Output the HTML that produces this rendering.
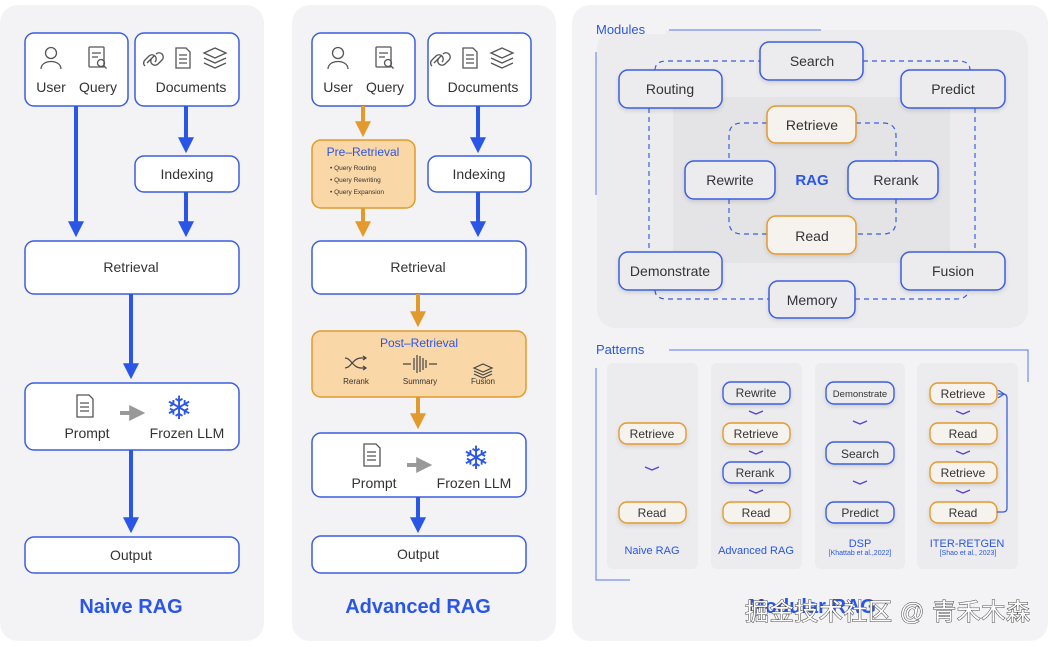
<!DOCTYPE html>
<html><head><meta charset="utf-8"><style>
html,body{margin:0;padding:0;background:#fff;}
svg text{font-family:"Liberation Sans","Noto Sans CJK SC",sans-serif;}
</style></head><body>
<svg width="1050" height="645" viewBox="0 0 1050 645" xmlns="http://www.w3.org/2000/svg">
<defs>
<marker id="ab" markerWidth="4" markerHeight="4" refX="2.2" refY="2" orient="auto" markerUnits="strokeWidth"><path d="M0,0 L4,2 L0,4 Z" fill="#2a56e8"/></marker>
<marker id="ao" markerWidth="4" markerHeight="4" refX="2.2" refY="2" orient="auto" markerUnits="strokeWidth"><path d="M0,0 L4,2 L0,4 Z" fill="#e39a2d"/></marker>
<marker id="ag" markerWidth="4" markerHeight="4" refX="2.2" refY="2" orient="auto" markerUnits="strokeWidth"><path d="M0,0 L4,2 L0,4 Z" fill="#999"/></marker>
<marker id="al" markerWidth="8" markerHeight="8" refX="7" refY="4" orient="auto" markerUnits="userSpaceOnUse"><path d="M7,0 L1,4 L7,8" fill="none" stroke="#3a5ee0" stroke-width="1.3"/></marker>
<filter id="sh" x="-20%" y="-20%" width="140%" height="160%"><feDropShadow dx="0" dy="2" stdDeviation="2" flood-color="#000" flood-opacity="0.12"/></filter>
</defs>

<rect x="0" y="5" width="264" height="636" rx="18" fill="#f3f3f5"/>
<rect x="292" y="5" width="264" height="636" rx="18" fill="#f3f3f5"/>
<rect x="572" y="5" width="476" height="636" rx="18" fill="#f3f3f5"/>

<!-- NAIVE -->
<g fill="#fff" stroke="#3a5ee0" stroke-width="1.5">
<rect x="25" y="33" width="103" height="73" rx="9"/>
<rect x="135" y="33" width="104" height="73" rx="9"/>
<rect x="135" y="156" width="104" height="36" rx="9"/>
<rect x="25" y="241" width="214" height="53" rx="9"/>
<rect x="25" y="383" width="214" height="67" rx="9"/>
<rect x="25" y="537" width="214" height="36" rx="9"/>
</g>
<g fill="#333" font-size="14" text-anchor="middle">
<text x="51" y="92">User</text><text x="98" y="92">Query</text>
<text x="191" y="92">Documents</text>
<text x="187" y="179">Indexing</text>
<text x="131" y="272">Retrieval</text>
<text x="87" y="438">Prompt</text><text x="187" y="438">Frozen LLM</text>
<text x="131" y="560">Output</text>
</g>
<g stroke="#2a56e8" stroke-width="4" marker-end="url(#ab)" fill="none">
<line x1="76" y1="106" x2="76" y2="230"/>
<line x1="186" y1="106" x2="186" y2="146"/>
<line x1="186" y1="192" x2="186" y2="230"/>
<line x1="131" y1="294" x2="131" y2="372"/>
<line x1="131" y1="450" x2="131" y2="526"/>
</g>
<text x="131" y="613" font-size="20" font-weight="bold" fill="#2a56e8" text-anchor="middle">Naive RAG</text>

<!-- ADVANCED -->
<g fill="#fff" stroke="#3a5ee0" stroke-width="1.5">
<rect x="312" y="33" width="103" height="73" rx="9"/>
<rect x="428" y="33" width="103" height="73" rx="9"/>
<rect x="428" y="156" width="103" height="36" rx="9"/>
<rect x="312" y="241" width="214" height="53" rx="9"/>
<rect x="312" y="433" width="214" height="64" rx="9"/>
<rect x="312" y="536" width="214" height="37" rx="9"/>
</g>
<rect x="312" y="140" width="103" height="68" rx="9" fill="#f9d7a6" stroke="#e39a2d" stroke-width="1.5"/>
<rect x="312" y="331" width="214" height="66" rx="9" fill="#f9d7a6" stroke="#e39a2d" stroke-width="1.5"/>
<g fill="#333" font-size="14" text-anchor="middle">
<text x="338" y="92">User</text><text x="385" y="92">Query</text>
<text x="483" y="92">Documents</text>
<text x="479" y="179">Indexing</text>
<text x="418" y="272">Retrieval</text>
<text x="374" y="488">Prompt</text><text x="474" y="488">Frozen LLM</text>
<text x="418" y="559">Output</text>
</g>
<text x="363" y="156" font-size="12" fill="#2a56e8" text-anchor="middle">Pre–Retrieval</text>
<g font-size="6.5" fill="#333">
<text x="330" y="170">•  Query Routing</text>
<text x="330" y="182">•  Query Rewriting</text>
<text x="330" y="194">•  Query Expansion</text>
</g>
<text x="419" y="347" font-size="12" fill="#2a56e8" text-anchor="middle">Post–Retrieval</text>
<g font-size="8" fill="#333" text-anchor="middle">
<text x="356" y="384">Rerank</text><text x="420" y="384">Summary</text><text x="483" y="384">Fusion</text>
</g>
<g stroke="#444" stroke-width="1.2" fill="none">
<path d="M345,358 c6,0 8,10 16,10 l5,0 M345,368 c6,0 8,-10 16,-10 l5,0"/>
<path d="M363,356 l3,2 -3,2 M363,366 l3,2 -3,2"/>
<path d="M403,364 h8 M437,364 h-8"/>
<path d="M414,358v12 M417,355v18 M420,356v16 M423,358v12 M426,360v8"/>
<path d="M474,368 l9,-4 9,4 -9,4z M474,371 l9,4 9,-4 M474,374 l9,4 9,-4"/>
</g>
<g stroke="#e39a2d" stroke-width="4" marker-end="url(#ao)" fill="none">
<line x1="363" y1="106" x2="363" y2="130"/>
<line x1="363" y1="208" x2="363" y2="230"/>
<line x1="418" y1="294" x2="418" y2="320"/>
<line x1="418" y1="397" x2="418" y2="422"/>
</g>
<g stroke="#2a56e8" stroke-width="4" marker-end="url(#ab)" fill="none">
<line x1="478" y1="106" x2="478" y2="146"/>
<line x1="478" y1="192" x2="478" y2="230"/>
<line x1="418" y1="497" x2="418" y2="526"/>
</g>
<text x="418" y="613" font-size="20" font-weight="bold" fill="#2a56e8" text-anchor="middle">Advanced RAG</text>

<g id="icons" stroke="#555" stroke-width="1.3" fill="none">
<circle cx="51" cy="53" r="5.5"/><path d="M41,69 c0,-10 20,-10 20,0"/>
<rect x="89" y="47" width="15" height="20" rx="1"/><path d="M92,53h9 M92,57h6"/><circle cx="101" cy="63" r="3.5"/><path d="M103.5,65.5 l3,3"/>
<path d="M147,63 l7,-7 M145,66 a4,4 0 0 1 0,-6 l4,-4 a4,4 0 0 1 6,6 M156,54 a4,4 0 0 1 6,6 l-4,4 a4,4 0 0 1 -6,-6"/>
<path d="M176,48 h10 l4,4 v16 h-14z M179,55h8 M179,59h8 M179,63h8"/>
<path d="M204,53 l11,-5 11,5 -11,5z M204,58 l11,5 11,-5 M204,63 l11,5 11,-5"/>
</g>
<use href="#icons" x="287"/>
<g stroke="#555" stroke-width="1.3" fill="none">
<path d="M77,395 h12 l4,4 v18 h-16z M80,403h9 M80,407h9 M80,411h9"/>
<path d="M364,444 h12 l4,4 v18 h-16z M367,452h9 M367,456h9 M367,460h9"/>
</g>
<g stroke="#999" stroke-width="4" marker-end="url(#ag)"><line x1="120" y1="413" x2="138" y2="413"/><line x1="407" y1="465" x2="425" y2="465"/></g>
<text x="179" y="419" font-size="32" fill="#2a56e8" text-anchor="middle" font-family="DejaVu Sans">❄</text>
<text x="476" y="469" font-size="32" fill="#2a56e8" text-anchor="middle" font-family="DejaVu Sans">❄</text>

<!-- MODULAR -->
<rect x="597" y="30" width="431" height="298" rx="18" fill="#ececee"/>
<rect x="576" y="16" width="90" height="18" fill="#f3f3f5"/>
<text x="596" y="34" font-size="13" fill="#2a56e8">Modules</text>
<line x1="669" y1="30" x2="821" y2="30" stroke="#5a7ae6" stroke-width="1"/>
<line x1="596" y1="52" x2="596" y2="195" stroke="#5a7ae6" stroke-width="1"/>
<rect x="673" y="97" width="277" height="166" fill="#e4e4e6"/>
<g stroke="#3a5ee0" stroke-width="1.2" stroke-dasharray="5,4" fill="none">
<path d="M655,70 q0,-9 12,-9 h93 M863,61 h95 q12,0 12,9"/>
<path d="M649,108 v144 M975,108 v144"/>
<path d="M655,290 q0,9 12,9 h102 M855,299 h101 q12,0 12,-9"/>
<path d="M767,123 h-25 q-13,0 -13,13 v25 M856,123 h27 q13,0 13,13 v25"/>
<path d="M729,199 v22 q0,13 13,13 h25 M896,199 v22 q0,13 -13,13 h-27"/>
</g>
<g fill="#ececee" stroke="#3a5ee0" stroke-width="1.5" filter="url(#sh)">
<rect x="760" y="42" width="103" height="38" rx="9"/>
<rect x="619" y="70" width="103" height="38" rx="9"/>
<rect x="901" y="70" width="104" height="38" rx="9"/>
<rect x="685" y="161" width="90" height="38" rx="9"/>
<rect x="848" y="161" width="90" height="38" rx="9"/>
<rect x="619" y="252" width="103" height="38" rx="9"/>
<rect x="901" y="252" width="104" height="38" rx="9"/>
<rect x="769" y="281" width="86" height="37" rx="9"/>
</g>
<g fill="#f6f3ee" stroke="#e39a2d" stroke-width="1.5" filter="url(#sh)">
<rect x="767" y="106" width="89" height="37" rx="9"/>
<rect x="767" y="216" width="89" height="38" rx="9"/>
</g>
<g fill="#333" font-size="14" text-anchor="middle">
<text x="812" y="66">Search</text><text x="670" y="94">Routing</text><text x="953" y="94">Predict</text>
<text x="812" y="130">Retrieve</text><text x="730" y="185">Rewrite</text><text x="896" y="185">Rerank</text>
<text x="812" y="241">Read</text><text x="670" y="276">Demonstrate</text><text x="953" y="276">Fusion</text>
<text x="812" y="305">Memory</text>
</g>
<text x="812" y="185" font-size="15" font-weight="bold" fill="#2a56e8" text-anchor="middle">RAG</text>

<text x="596" y="354" font-size="13" fill="#2a56e8">Patterns</text>
<path d="M669,350 H1028 V382" stroke="#5a7ae6" fill="none" stroke-width="1"/>
<path d="M596,368 V580 H630" stroke="#5a7ae6" fill="none" stroke-width="1"/>
<g fill="#ececee">
<rect x="607" y="363" width="91" height="206" rx="6"/>
<rect x="711" y="363" width="91" height="206" rx="6"/>
<rect x="815" y="363" width="90" height="206" rx="6"/>
<rect x="917" y="363" width="101" height="206" rx="6"/>
</g>
<g fill="#f6f3ee" stroke="#e39a2d" stroke-width="1.4" filter="url(#sh)">
<rect x="619" y="423" width="67" height="21" rx="8"/>
<rect x="619" y="502" width="67" height="21" rx="8"/>
<rect x="723" y="423" width="67" height="21" rx="8"/>
<rect x="723" y="502" width="67" height="21" rx="8"/>
<rect x="930" y="383" width="67" height="21" rx="8"/>
<rect x="930" y="423" width="67" height="21" rx="8"/>
<rect x="930" y="462" width="67" height="21" rx="8"/>
<rect x="930" y="502" width="67" height="21" rx="8"/>
</g>
<g fill="#ececee" stroke="#3a5ee0" stroke-width="1.4" filter="url(#sh)">
<rect x="723" y="382" width="67" height="22" rx="8"/>
<rect x="723" y="462" width="67" height="21" rx="8"/>
<rect x="826" y="382" width="68" height="22" rx="8"/>
<rect x="826" y="442" width="68" height="22" rx="8"/>
<rect x="826" y="502" width="68" height="21" rx="8"/>
</g>
<g fill="#333" font-size="12" text-anchor="middle">
<text x="652" y="438">Retrieve</text><text x="652" y="517">Read</text>
<text x="756" y="397">Rewrite</text><text x="756" y="438">Retrieve</text><text x="755" y="477">Rerank</text><text x="756" y="517">Read</text>
<text x="860" y="397" font-size="9.5">Demonstrate</text><text x="860" y="458">Search</text><text x="860" y="517">Predict</text>
<text x="963" y="398">Retrieve</text><text x="963" y="438">Read</text><text x="963" y="477">Retrieve</text><text x="963" y="517">Read</text>
</g>
<g stroke="#5b3fd6" stroke-width="1.4" fill="none">
<path d="M645,467 l7,3 7,-3"/>
<path d="M749,411 l7,3 7,-3 M749,451 l7,3 7,-3 M749,490 l7,3 7,-3"/>
<path d="M853,421 l7,3 7,-3 M853,481 l7,3 7,-3"/>
<path d="M956,411 l7,3 7,-3 M956,451 l7,3 7,-3 M956,490 l7,3 7,-3"/>
</g>
<path d="M997,512 h6 q4,0 4,-4 V398 q0,-4 -4,-4 h-5" stroke="#3a5ee0" stroke-width="1.3" fill="none" marker-end="url(#al)"/>
<g fill="#2a56e8" text-anchor="middle">
<text x="652" y="554" font-size="11">Naive RAG</text>
<text x="756" y="554" font-size="11">Advanced RAG</text>
<text x="860" y="547" font-size="11">DSP</text>
<text x="860" y="555" font-size="7">[Khattab et al.,2022]</text>
<text x="967" y="547" font-size="11">ITER-RETGEN</text>
<text x="968" y="555" font-size="7">[Shao et al., 2023]</text>
</g>
<text x="812" y="613" font-size="20" font-weight="bold" fill="#2a56e8" text-anchor="middle">Modular RAG</text>
<text x="745" y="620" font-size="24" fill="#fff" stroke="#444" stroke-width="1" style="paint-order:stroke" textLength="285">掘金技术社区 @ 青禾木森</text>
</svg>
</body></html>
